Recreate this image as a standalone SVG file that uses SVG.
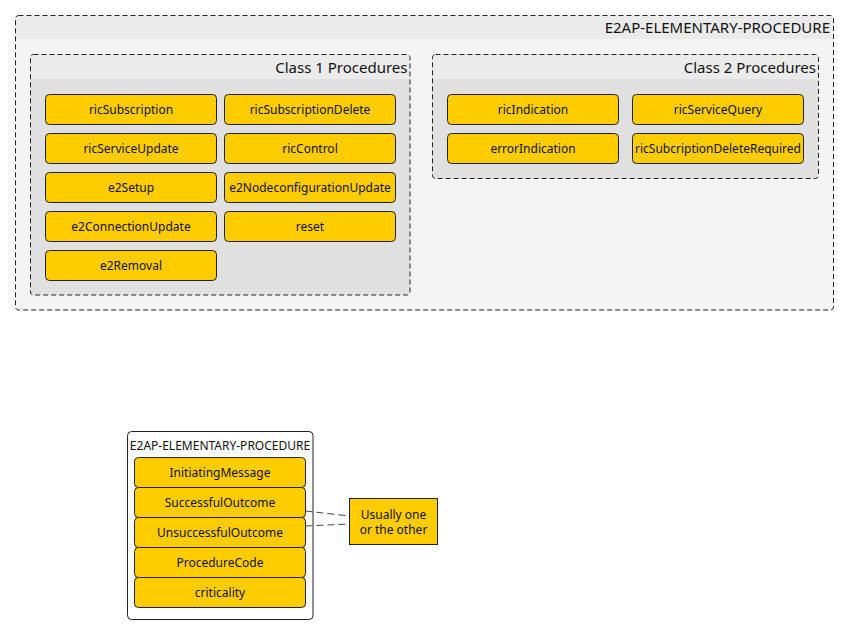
<svg xmlns="http://www.w3.org/2000/svg" width="849" height="635" viewBox="0 0 849 635">
<style>
text{font-family:"Noto Sans","DejaVu Sans",sans-serif;fill:#111}
.lbl{font-size:15px;text-anchor:end}
.n rect{fill:#FFCC00;stroke:#222;stroke-width:1}
.n text{font-size:12px;text-anchor:middle}
.frame{fill:none;stroke:#222;stroke-width:1;stroke-dasharray:5,3}
.conn{stroke:#444;stroke-width:1;stroke-dasharray:7,4;fill:none}
</style>
<rect width="849" height="635" fill="#ffffff"/>
<g id="e2ap-elementary-procedure">
<rect x="15.5" y="15.5" width="818" height="294.5" rx="3" fill="#f4f4f4"/>
<path d="M15.5,39 V18.5 a3,3 0 0 1 3,-3 H830.5 a3,3 0 0 1 3,3 V39 Z" fill="#ebebeb"/>
<rect class="frame" x="15.5" y="15.5" width="818" height="294.5" rx="3"/>
<text class="lbl" x="830" y="32.5">E2AP-ELEMENTARY-PROCEDURE</text>
</g>
<g id="class1">
<rect x="30.5" y="54.5" width="379.5" height="240.5" rx="3" fill="#e0e0e0"/>
<path d="M30.5,79 V57.5 a3,3 0 0 1 3,-3 H407 a3,3 0 0 1 3,3 V79 Z" fill="#ebebeb"/>
<rect class="frame" x="30.5" y="54.5" width="379.5" height="240.5" rx="3"/>
<text class="lbl" x="407.5" y="73">Class 1 Procedures</text>
</g>
<g id="class2">
<rect x="432.5" y="54.5" width="386" height="124" rx="3" fill="#e0e0e0"/>
<path d="M432.5,79 V57.5 a3,3 0 0 1 3,-3 H815.5 a3,3 0 0 1 3,3 V79 Z" fill="#ebebeb"/>
<rect class="frame" x="432.5" y="54.5" width="386" height="124" rx="3"/>
<text class="lbl" x="816" y="73">Class 2 Procedures</text>
</g>
<g id="ricSubscription" class="n"><rect x="45.5" y="94.5" width="171" height="30" rx="4"/><text x="131" y="114">ricSubscription</text></g>
<g id="ricSubscriptionDelete" class="n"><rect x="224.5" y="94.5" width="171" height="30" rx="4"/><text x="310" y="114">ricSubscriptionDelete</text></g>
<g id="ricServiceUpdate" class="n"><rect x="45.5" y="133.5" width="171" height="30" rx="4"/><text x="131" y="153">ricServiceUpdate</text></g>
<g id="ricControl" class="n"><rect x="224.5" y="133.5" width="171" height="30" rx="4"/><text x="310" y="153">ricControl</text></g>
<g id="e2Setup" class="n"><rect x="45.5" y="172.5" width="171" height="30" rx="4"/><text x="131" y="192">e2Setup</text></g>
<g id="e2NodeconfigurationUpdate" class="n"><rect x="224.5" y="172.5" width="171" height="30" rx="4"/><text x="310" y="192">e2NodeconfigurationUpdate</text></g>
<g id="e2ConnectionUpdate" class="n"><rect x="45.5" y="211.5" width="171" height="30" rx="4"/><text x="131" y="231">e2ConnectionUpdate</text></g>
<g id="reset" class="n"><rect x="224.5" y="211.5" width="171" height="30" rx="4"/><text x="310" y="231">reset</text></g>
<g id="e2Removal" class="n"><rect x="45.5" y="250.5" width="171" height="30" rx="4"/><text x="131" y="270">e2Removal</text></g>
<g id="ricIndication" class="n"><rect x="447.5" y="94.5" width="171" height="30" rx="4"/><text x="533" y="114">ricIndication</text></g>
<g id="ricServiceQuery" class="n"><rect x="632.5" y="94.5" width="171" height="30" rx="4"/><text x="718" y="114">ricServiceQuery</text></g>
<g id="errorIndication" class="n"><rect x="447.5" y="133.5" width="171" height="30" rx="4"/><text x="533" y="153">errorIndication</text></g>
<g id="ricSubcriptionDeleteRequired" class="n"><rect x="632.5" y="133.5" width="171" height="30" rx="4"/><text x="718" y="153">ricSubcriptionDeleteRequired</text></g>
<g id="structure">
<rect x="127.5" y="431.5" width="185.5" height="188" rx="4" fill="#ffffff" stroke="#222" stroke-width="1"/>
<text x="220" y="450" font-size="12" text-anchor="middle">E2AP-ELEMENTARY-PROCEDURE</text>
</g>
<g id="InitiatingMessage" class="n"><rect x="134.5" y="457.5" width="171" height="30" rx="4"/><text x="220" y="477">InitiatingMessage</text></g>
<g id="SuccessfulOutcome" class="n"><rect x="134.5" y="487.5" width="171" height="30" rx="4"/><text x="220" y="507">SuccessfulOutcome</text></g>
<g id="UnsuccessfulOutcome" class="n"><rect x="134.5" y="517.5" width="171" height="30" rx="4"/><text x="220" y="537">UnsuccessfulOutcome</text></g>
<g id="ProcedureCode" class="n"><rect x="134.5" y="547.5" width="171" height="30" rx="4"/><text x="220" y="567">ProcedureCode</text></g>
<g id="criticality" class="n"><rect x="134.5" y="577.5" width="171" height="30" rx="4"/><text x="220" y="597">criticality</text></g>
<g id="note">
<rect x="349.5" y="498.5" width="88" height="46" fill="#FFCC00" stroke="#222" stroke-width="1"/>
<text x="393.5" y="518.5" font-size="12" text-anchor="middle">Usually one</text>
<text x="393.5" y="534" font-size="12" text-anchor="middle">or the other</text>
</g>
<g id="connectors">
<path class="conn" d="M305.5,511 L349.5,516"/>
<path class="conn" d="M305.5,526 L349.5,524"/>
</g>
</svg>
